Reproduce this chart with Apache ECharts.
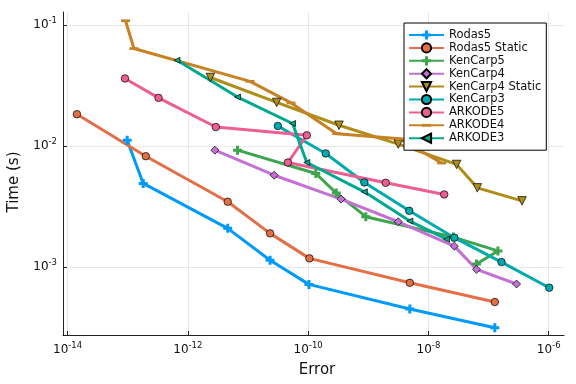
<!DOCTYPE html>
<html><head><meta charset="utf-8">
<script src="https://cdn.jsdelivr.net/npm/echarts@6/dist/echarts.min.js"></script>
<style>html,body{margin:0;padding:0;background:#fff}#c{width:576px;height:384px}</style>
</head><body><div id="c"></div>
<script>
// ---- data (error, time) ----
const seriesNames = ['Rodas5','Rodas5 Static','KenCarp5','KenCarp4','KenCarp4 Static','KenCarp3','ARKODE5','ARKODE4','ARKODE3'];
const rodas5Err = [9.8e-14, 1.81e-13, 4.6e-12, 2.33e-11, 1.03e-10, 4.9e-9, 1.27e-7];
const rodas5Time = [0.0112, 0.00492, 0.00209, 0.00114, 0.000719, 0.00045, 0.000315];
const rodas5StaticErr = [1.43e-14, 2.0e-13, 4.6e-12, 2.33e-11, 1.05e-10, 4.9e-9, 1.27e-7];
const rodas5StaticTime = [0.0184, 0.00826, 0.00347, 0.0019, 0.00118, 0.000741, 0.000514];
const kenCarp5Err = [6.7e-12, 1.34e-10, 2.94e-10, 9.1e-10, 2.6e-8, 1.43e-7, 6.3e-8];
const kenCarp5Time = [0.00927, 0.00594, 0.00409, 0.00261, 0.00177, 0.00136, 0.00106];
const kenCarp4Err = [2.81e-12, 2.72e-11, 3.52e-10, 3.15e-9, 2.69e-8, 6.3e-8, 2.92e-7];
const kenCarp4Time = [0.00927, 0.00575, 0.00365, 0.00237, 0.00149, 0.000957, 0.000724];
const kenCarp4StaticErr = [2.37e-12, 3.0e-11, 3.26e-10, 3.15e-9, 2.94e-8, 6.5e-8, 3.6e-7];
const kenCarp4StaticTime = [0.037, 0.023, 0.0149, 0.0104, 0.00706, 0.00452, 0.00353];
const kenCarp3Err = [3.13e-11, 1.96e-10, 8.6e-10, 4.8e-9, 2.69e-8, 1.64e-7, 1.02e-6];
const kenCarp3Time = [0.0147, 0.00871, 0.00501, 0.00292, 0.00175, 0.0011, 0.000675];
const arkode5Err = [9.0e-14, 3.25e-13, 2.92e-12, 9.5e-11, 4.6e-11, 1.95e-9, 1.83e-8];
const arkode5Time = [0.0363, 0.0251, 0.0144, 0.0123, 0.00733, 0.00498, 0.00399];
const arkode4Err = [9.2e-14, 1.27e-13, 1.08e-11, 5.2e-11, 2.98e-10, 3.36e-9, 1.66e-8];
const arkode4Time = [0.109, 0.0642, 0.0344, 0.0228, 0.0127, 0.0115, 0.00725];
const arkode3Err = [6.6e-13, 6.7e-12, 5.5e-11, 9.5e-11, 8.6e-10, 4.9e-9, 2.0e-8];
const arkode3Time = [0.0514, 0.0255, 0.0154, 0.00733, 0.00419, 0.0024, 0.0017];
const xTickExponents = [-14, -12, -10, -8, -6];
const yTickExponents = [-3, -2, -1];

// ---- styling ----
const colors = ['#009afa','#e36f47','#3ea44e','#c371d2','#ac8e18','#00aaae','#ed5e93','#c68225','#00a98d'];
const PLUS = 'path://M3,0H6V3H9V6H6V9H3V6H0V3H3Z';
// square bounding box (via move points) with a centred horizontal bar
const HLINE = 'path://M0,0M10,10M0,3.5H10V6.5H0Z';
const markers = [
  {symbol: PLUS, size: 9, rot: 0, border: 0},
  {symbol: 'circle', size: 7.5, rot: 0, border: 0.7},
  {symbol: PLUS, size: 9, rot: 0, border: 0},
  {symbol: 'diamond', size: 8, rot: 0, border: 0.7},
  {symbol: 'triangle', size: 8.5, rot: 180, border: 0.7},
  {symbol: 'circle', size: 7.5, rot: 0, border: 0.7},
  {symbol: 'circle', size: 7.5, rot: 0, border: 0.7},
  {symbol: HLINE, size: 9, rot: 0, border: 0},
  {symbol: 'triangle', size: 6, rot: 90, border: 0.7}
];
const errs = [rodas5Err, rodas5StaticErr, kenCarp5Err, kenCarp4Err, kenCarp4StaticErr, kenCarp3Err, arkode5Err, arkode4Err, arkode3Err];
const times = [rodas5Time, rodas5StaticTime, kenCarp5Time, kenCarp4Time, kenCarp4StaticTime, kenCarp3Time, arkode5Time, arkode4Time, arkode3Time];

const FONT = 'DejaVu Sans';
const sup = (v) => '{a|10}{b|' + Math.round(v) + '}';
const richLab = {
  a: {fontSize: 12, fontFamily: FONT, color: '#111'},
  b: {fontSize: 8.5, fontFamily: FONT, color: '#111', padding: [0, 0, 9, 0]}
};

const series = seriesNames.map((name, i) => ({
  name: name,
  type: 'line',
  data: errs[i].map((e, k) => [Math.log10(e), Math.log10(times[i][k])]),
  symbol: markers[i].symbol,
  symbolSize: markers[i].size,
  symbolRotate: markers[i].rot,
  showAllSymbol: true,
  lineStyle: {color: colors[i], width: 3},
  itemStyle: {color: colors[i], borderColor: '#000', borderWidth: markers[i].border, opacity: 1},
  emphasis: {disabled: true},
  animation: false
}));

const chart = echarts.init(document.getElementById('c'), null, {renderer: 'canvas'});
chart.setOption({
  animation: false,
  backgroundColor: '#fff',
  grid: {left: 63, right: 12, top: 12, bottom: 49, containLabel: false},
  xAxis: {
    type: 'value', min: -14.076, max: -5.746,
    name: 'Error', nameLocation: 'middle', nameGap: 28,
    nameTextStyle: {fontSize: 15, fontFamily: FONT, color: '#111', padding: [0, 0, 0, 7]},
    axisLine: {show: true, lineStyle: {color: '#222', width: 1}},
    axisTick: {show: true, inside: true, length: 4, customValues: xTickExponents, lineStyle: {color: '#222'}},
    axisLabel: {customValues: xTickExponents, formatter: sup, rich: richLab, margin: 6},
    splitLine: {show: true, lineStyle: {color: '#e8e8e8', width: 1}}
  },
  yAxis: {
    type: 'value', min: -3.562, max: -0.89,
    axisLine: {show: true, lineStyle: {color: '#222', width: 1}},
    axisTick: {show: true, inside: true, length: 4, customValues: yTickExponents, lineStyle: {color: '#222'}},
    axisLabel: {customValues: yTickExponents, formatter: sup, rich: richLab, margin: 6},
    splitLine: {show: true, lineStyle: {color: '#e8e8e8', width: 1}}
  },
  graphic: [{
    type: 'text', x: 14, y: 182, rotation: Math.PI / 2,
    style: {text: 'Time (s)', fontSize: 15, fontFamily: FONT, fill: '#111', align: 'center', verticalAlign: 'middle'}
  }],
  legend: {
    show: true, orient: 'vertical', left: 404, top: 23,
    data: seriesNames,
    itemWidth: 35, itemHeight: 11.5, itemGap: 0.9,
    padding: [6, 5, 6, 4],
    backgroundColor: '#fff', borderColor: '#000', borderWidth: 1,
    textStyle: {fontSize: 11.5, lineHeight: 11.5, fontFamily: FONT, color: '#111'},
    selectedMode: false
  },
  series: series
});
</script>
</body></html>
